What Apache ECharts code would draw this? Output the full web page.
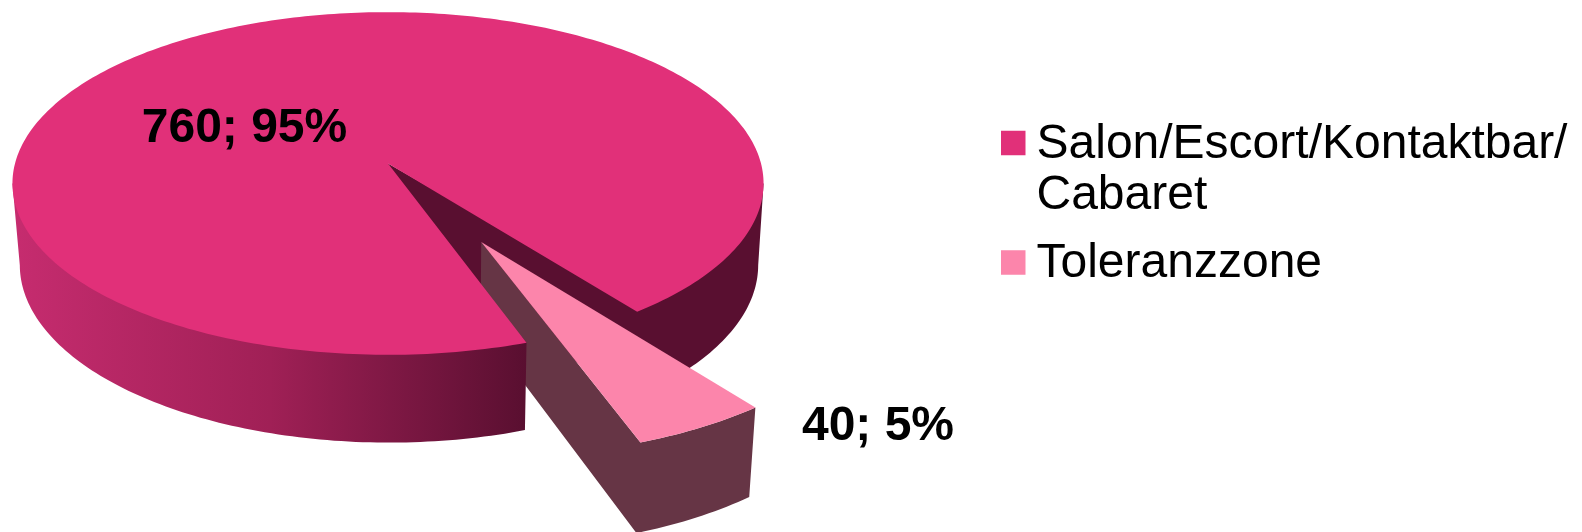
<!DOCTYPE html>
<html>
<head>
<meta charset="utf-8">
<style>html,body{margin:0;padding:0;background:#fff}#chart{width:1582px;height:532px}</style>
<script src="https://cdn.jsdelivr.net/npm/echarts@6/dist/echarts.min.js"></script>
</head>
<body>
<div id="chart"></div>
<script>
// Values of the pie
const categories = ['Salon/Escort/Kontaktbar/\nCabaret', 'Toleranzzone'];
const counts = [760, 40];
const explode = [0, 0.5];

const topColors = ['#e13079', '#fc85ab'];
const FONT = '"Liberation Sans", Arial, sans-serif';

// Perspective view of a tilted disc: X/Y lie in the disc plane (unit radius), Z goes down
const view = { cx: 388, cy: 163.5, a: 373, b: 169, k: 0.1166, h: 82.3, m: 0.017, sx: 1 };
function project(X, Y, Z) {
  const w = 1 - view.k * Y + view.m * Z;
  return [view.cx + view.a * X / w + view.sx * Z, view.cy + (view.b * Y + view.h * Z) / w];
}

const START_DEG = 70.7;      // where the first slice begins, clockwise on screen
const EDGE_DEG = Math.asin(view.k) * 180 / Math.PI; // rim angle where the outline turns
const total = counts.reduce((s, v) => s + v, 0);

const rad = d => d * Math.PI / 180;
function arc(d0, d1, Z, ox, oy, r = 1) {
  const n = Math.max(2, Math.ceil(Math.abs(d1 - d0)));
  const pts = [];
  for (let i = 0; i <= n; i++) {
    const t = rad(d0 + (d1 - d0) * i / n);
    pts.push(project(ox + r * Math.cos(t), oy + r * Math.sin(t), Z));
  }
  return pts;
}
const poly = (points, fill, z2) => ({ type: 'polygon', shape: { points }, style: { fill }, z2, silent: true });
// Rim band; its upper edge runs a little inside the top face, which is painted over it
const rim = (d0, d1) => [arc(d0, d0, 0, 0, 0)[0]]
  .concat(arc(d0, d1, 0, 0, 0, 0.97), [arc(d1, d1, 0, 0, 0)[0]], arc(d0, d1, 1, 0, 0).reverse());
function label(text, x, y, z2) {
  return { type: 'text', z2, silent: true, style: {
    x, y, text, fill: '#000', align: 'center', verticalAlign: 'middle',
    font: 'bold 48px ' + FONT } };
}
const labelText = v => v + '; ' + Math.round(v / total * 100) + '%';

function renderSalon(params, api) {
  const v = api.value(0);
  const d0 = START_DEG, d1 = START_DEG + v / total * 360;
  const shade = new echarts.graphic.LinearGradient(13, 0, 527, 0, [
    { offset: 0, color: '#c62c6f' },
    { offset: 0.5, color: '#a02056' },
    { offset: 1, color: '#590f30' }
  ], true);
  const cutEnd = d1 % 360;
  const apexTop = project(0, 0, 0), apexBottom = project(0, 0, 1);
  const backFace = [apexTop].concat(
    arc(cutEnd - 1, EDGE_DEG, 0, 0, 0, 0.97),
    [arc(EDGE_DEG, EDGE_DEG, 0, 0, 0)[0]],
    arc(EDGE_DEG, cutEnd, 1, 0, 0),
    [apexBottom]
  );
  return { type: 'group', children: [
    // back layer: cut face and right part of the rim, seen behind the pulled-out slice
    poly(backFace, '#590f30', 1),
    // front rim, then the top face over it
    poly(rim(d0, 180 - EDGE_DEG), shade, 5),
    poly(arc(d0, d1, 0, 0, 0).concat([apexTop]), topColors[0], 6),
    label(labelText(v), 244.5, 129, 7)
  ] };
}

function renderZone(params, api) {
  const v = api.value(0);
  const d1 = START_DEG, d0 = START_DEG - v / total * 360;
  const mid = rad((d0 + d1) / 2);
  const ox = explode[1] * Math.cos(mid), oy = explode[1] * Math.sin(mid);
  const apexTop = project(ox, oy, 0), apexBottom = project(ox, oy, 1);
  return { type: 'group', children: [
    // side faces form one outline: inner cut, then the outer rim
    poly([apexTop].concat(arc(d1, d0, 0, ox, oy), arc(d0, d1, 1, ox, oy), [apexBottom]), '#663545', 2),
    poly(arc(d0, d1, 0, ox, oy).concat([apexTop]), topColors[1], 3),
    label(labelText(v), 878, 427, 7)
  ] };
}

const renderers = [renderSalon, renderZone];
const chart = echarts.init(document.getElementById('chart'), null, { renderer: 'canvas' });
chart.setOption({
  animation: false,
  backgroundColor: '#fff',
  legend: {
    orient: 'vertical', left: 1001, top: 68, itemWidth: 24.5, itemHeight: 27.5, itemGap: 17.5,
    padding: 0, selectedMode: false,
    // square in the upper part of the marker box, so it sits a little above the text centre
    icon: 'path://M0 0H24.5V24.5H0ZM24.5 27.5L24.5 27.5Z',
    // a blank first line keeps the marker level with the first line of a wrapped name
    formatter: name => (name.includes('\n') ? '\n' + name : name),
    textStyle: { fontFamily: FONT, fontSize: 48, lineHeight: 51, color: '#000', padding: [0, 0, 0, 6] },
    data: categories
  },
  series: categories.map((name, i) => ({
    type: 'custom',
    name,
    coordinateSystem: 'none',
    silent: true,
    itemStyle: { color: topColors[i] },
    renderItem: renderers[i],
    data: [[counts[i]]]
  }))
});
</script>
</body>
</html>
